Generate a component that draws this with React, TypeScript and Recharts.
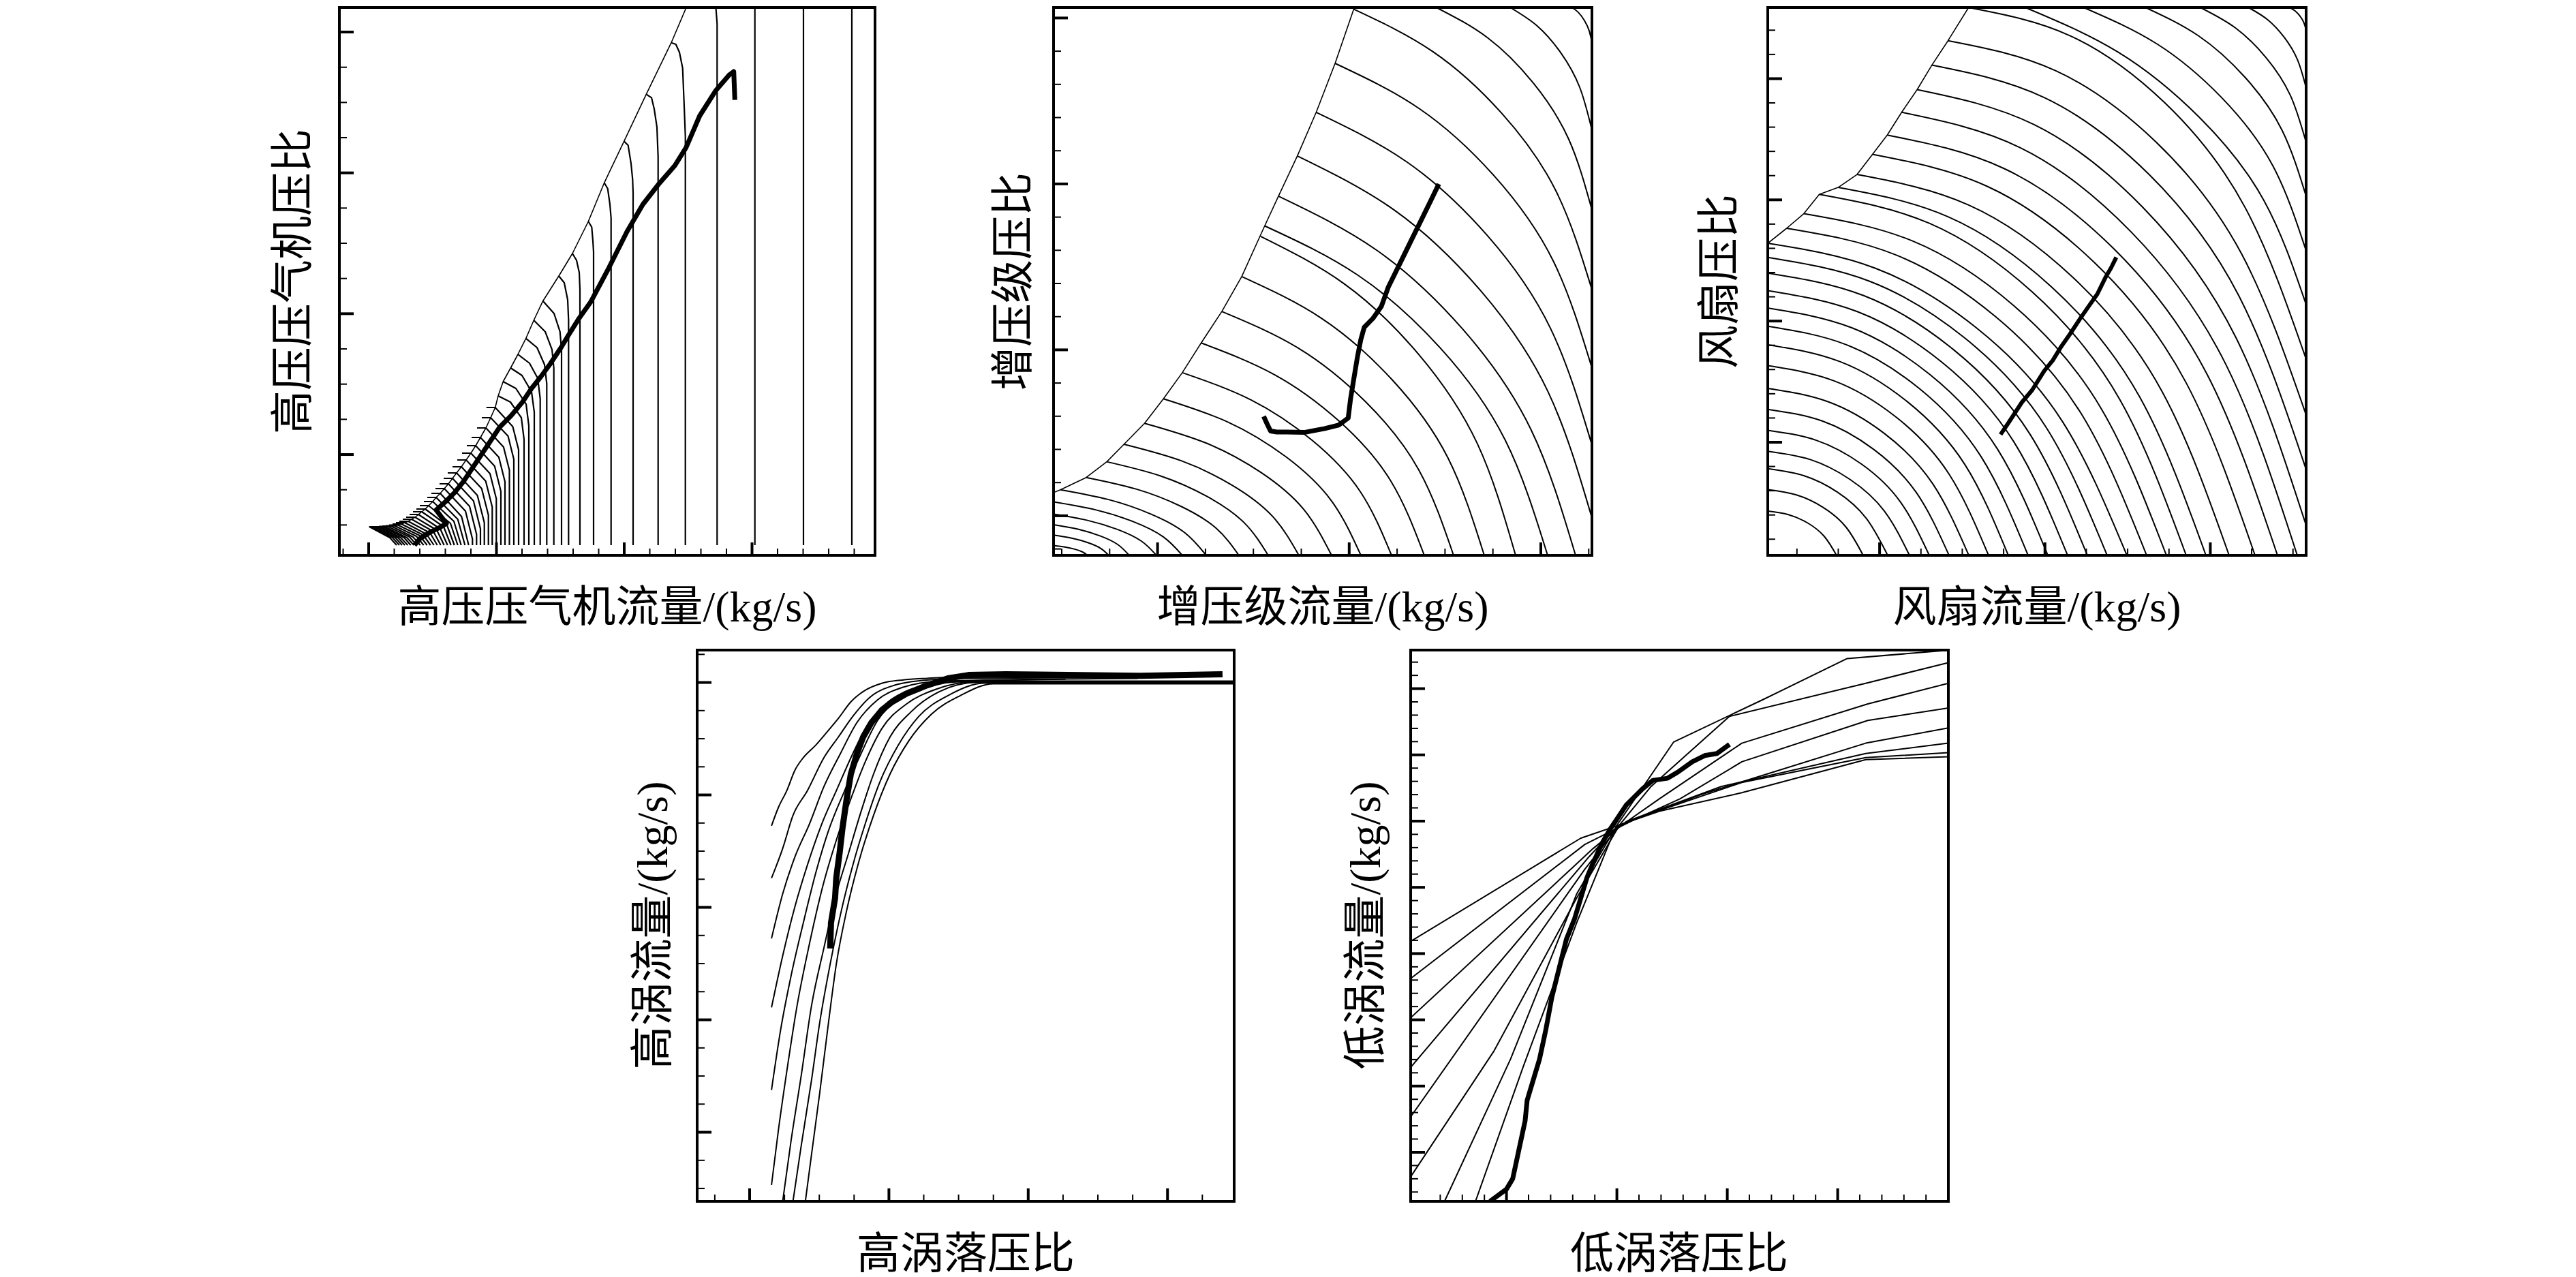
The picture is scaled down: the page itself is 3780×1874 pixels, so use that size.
import React from 'react';
import { LineChart, Line, XAxis, YAxis, ReferenceArea, ReferenceLine } from 'recharts';

type Pt = [number, number];
type CurveType = 'linear' | 'natural' | 'monotone';

interface TickSpec {
  start: number;
  step: number;
  count: number;
  major: number[]; // indexes of the long ticks
}

// ---------------- 高压压气机 (HPC) ----------------
const hpcSpeedLines: Pt[][] = [
  [[75.2, 1.5], [75.2, 81]],
  [[68.1, 1.5], [68.1, 81]],
  [[60.97, 1.5], [60.97, 81]],
  [[55.43, 1.5], [55.43, 78.0], [55.2, 81]],
  [[48.7, 75.23], [49.37, 75.0], [49.9, 73.83], [50.37, 71.5], [50.6, 65.83], [50.77, 61.5], [50.77, 1.5]],
  [[45.03, 67.67], [45.8, 67.17], [46.2, 65.5], [46.6, 62.83], [46.77, 58.5], [46.77, 1.5]],
  [[41.77, 60.77], [42.37, 60.17], [42.8, 57.5], [43.03, 55.17], [43.1, 53.2], [43.1, 1.5]],
  [[38.87, 54.67], [39.37, 53.83], [39.7, 51.5], [39.87, 49.5], [39.87, 1.5]],
  [[36.53, 49.0], [37.03, 48.17], [37.2, 46.17], [37.3, 44.5], [37.3, 1.5]],
  [[34.2, 44.3], [34.8, 43.3], [35.2, 41.5], [35.3, 39.0], [35.3, 1.5]],
  [[32.2, 41.0], [33.0, 40.0], [33.5, 37.5], [33.63, 34.5], [33.63, 1.5]],
  [[29.87, 37.33], [31.5, 35.5], [32.37, 32.83], [32.6, 30.2], [32.6, 1.5]],
  [[28.53, 34.5], [30.2, 32.83], [31.2, 30.2], [31.47, 27.5], [31.47, 1.5]],
  [[27.37, 31.83], [29.0, 30.5], [30.1, 28.0], [30.43, 25.2], [30.43, 1.5]],
  [[26.2, 29.5], [27.9, 28.2], [29.1, 26.0], [29.47, 23.0], [29.47, 1.5]],
  [[25.13, 27.5], [26.8, 26.4], [28.2, 24.0], [28.6, 21.0], [28.6, 1.5]],
  [[24.03, 25.5], [25.9, 24.5], [27.4, 22.2], [27.8, 19.0], [27.8, 1.5]],
  [[23.3, 23.4], [25.1, 22.5], [26.7, 20.2], [27.1, 17.0], [27.1, 1.5]],
  [[21.57, 21.7], [22.87, 21.7], [25.44, 18.9], [26.3, 15.5], [26.3, 1.5]],
  [[20.9, 20.2], [22.2, 20.2], [24.75, 17.5], [25.6, 14.1], [25.6, 1.5]],
  [[20.2, 18.7], [21.5, 18.7], [24.09, 15.9], [24.95, 12.5], [24.95, 1.5]],
  [[19.4, 17.3], [20.7, 17.3], [23.4, 14.4], [24.3, 10.8], [24.3, 1.5]],
  [[18.7, 16.1], [20.0, 16.1], [22.78, 13.1], [23.7, 9.4], [23.7, 1.5]],
  [[18.0, 15.0], [19.3, 15.0], [22.1, 12.0], [23.03, 8.3], [23.03, 1.5]],
  [[17.3, 14.0], [18.6, 14.0], [21.47, 10.9], [22.43, 7.1], [22.43, 1.5]],
  [[16.6, 13.0], [17.9, 13.0], [20.88, 9.8], [21.87, 5.9], [21.87, 1.5]],
  [[15.9, 12.1], [17.2, 12.1], [20.25, 8.8], [21.27, 4.8], [21.27, 1.5]],
  [[15.3, 11.3], [16.6, 11.3], [19.68, 8.0], [20.7, 3.9], [20.7, 1.5]],
  [[14.7, 10.5], [16.0, 10.5], [19.1, 7.2], [20.13, 3.1], [20.13, 1.5]],
  [[14.1, 9.8], [15.4, 9.8], [18.5, 6.5], [19.53, 2.4], [19.53, 1.5]],
  [[13.5, 9.1], [14.8, 9.1], [17.93, 5.7], [18.97, 1.5]],
  [[12.9, 8.5], [14.2, 8.5], [17.37, 5.3], [18.43, 1.5]],
  [[12.4, 7.9], [13.7, 7.9], [16.8, 5.0], [17.87, 1.5]],
  [[11.8, 7.3], [13.1, 7.3], [16.3, 4.7], [17.37, 1.5]],
  [[11.3, 6.8], [12.6, 6.8], [15.8, 4.4], [16.87, 1.5]],
  [[10.8, 6.4], [12.1, 6.4], [15.3, 4.2], [16.37, 1.5]],
  [[10.3, 6.0], [11.6, 6.0], [14.8, 3.9], [15.87, 1.5]],
  [[9.8, 5.6], [11.1, 5.6], [14.3, 3.7], [15.37, 1.5]],
  [[9.3, 5.3], [10.6, 5.3], [13.8, 3.5], [14.87, 1.5]],
  [[8.8, 5.0], [10.1, 5.0], [13.3, 3.3], [14.37, 1.5]],
  [[8.3, 4.8], [9.6, 4.8], [12.8, 3.1], [13.87, 1.5]],
  [[7.8, 4.6], [9.1, 4.6], [12.3, 3.0], [13.37, 1.5]],
  [[7.3, 4.45], [8.6, 4.45], [11.8, 2.9], [12.87, 1.5]],
  [[6.8, 4.35], [8.1, 4.35], [11.3, 2.8], [12.37, 1.5]],
  [[6.3, 4.3], [7.6, 4.3], [10.8, 2.7], [11.87, 1.5]],
  [[5.8, 4.25], [7.1, 4.25], [10.3, 2.7], [11.37, 1.5]],
  [[5.4, 4.2], [6.7, 4.2], [9.9, 2.6], [10.93, 1.5]],
  [[5.0, 4.2], [6.3, 4.2], [9.5, 2.6], [10.47, 1.5]],
  [[4.6, 4.2], [5.9, 4.2], [9.0, 2.6], [10.03, 1.5]],
  [[4.4, 4.2], [5.5, 4.2], [8.6, 2.6], [9.6, 1.5]],
  [[4.4, 4.2], [5.1, 4.2], [8.2, 2.6], [9.2, 1.5]],
  [[4.37, 4.2], [4.7, 4.2], [7.8, 2.6], [8.8, 1.5]],
  [[4.4, 4.2], [7.4, 2.6], [8.4, 1.5]],
];

const hpcSurgeLine: Pt[] = [
  [50.9, 80.4], [48.7, 75.23], [45.03, 67.67], [41.77, 60.77], [38.87, 54.67], [36.53, 49.0],
  [34.2, 44.3], [32.2, 41.0], [29.87, 37.33], [28.53, 34.5], [27.37, 31.83], [26.2, 29.5],
  [25.13, 27.5], [24.03, 25.5], [23.3, 23.4], [22.87, 21.7], [22.2, 20.2], [21.5, 18.7],
  [20.7, 17.3], [20.0, 16.1], [19.3, 15.0], [18.6, 14.0], [17.9, 13.0], [17.2, 12.1],
  [16.6, 11.3], [16.0, 10.5], [15.4, 9.8], [14.8, 9.1], [14.2, 8.5], [13.7, 7.9], [13.1, 7.3],
  [12.6, 6.8], [12.1, 6.4], [11.6, 6.0], [11.1, 5.6], [10.6, 5.3], [10.1, 5.0], [9.6, 4.8],
  [9.1, 4.6], [8.6, 4.45], [8.1, 4.35], [7.6, 4.3], [6.7, 4.2], [4.37, 4.23],
];

const hpcOperatingLine: Pt[] = [
  [11.03, 1.5], [11.87, 2.5], [13.2, 3.33], [14.87, 4.17], [15.7, 4.67], [14.2, 6.67],
  [15.53, 7.83], [16.87, 9.17], [18.2, 10.83], [19.53, 12.83], [20.87, 14.83], [22.2, 16.83],
  [23.53, 18.83], [25.2, 20.5], [26.87, 22.5], [28.2, 24.5], [29.53, 26.17], [30.87, 28.0],
  [32.53, 30.5], [33.53, 32.17], [35.2, 34.83], [36.87, 37.17], [39.53, 42.17], [42.2, 47.5],
  [44.53, 51.5], [46.87, 54.5], [49.2, 57.17], [50.87, 59.83], [52.87, 64.5], [55.2, 68.17],
  [57.2, 70.5], [57.87, 71.0], [58.03, 66.83],
];

const hpcXTicks: TickSpec = { start: 0.55, step: 3.75, count: 21, major: [1, 6, 11, 16] };
const hpcYTicks: TickSpec = { start: 76.8, step: -5.167, count: 15, major: [0, 4, 8, 12] };

// ---------------- 增压级 (booster) ----------------
const boosterSpeedLines: Pt[][] = [
  [[76.07, 80.4], [77.04, 79.64], [77.89, 78.51], [78.56, 77.09], [79.0, 75.3]],
  [[67.0, 80.4], [70.96, 77.7], [74.44, 73.74], [77.2, 68.7], [79.0, 62.4]],
  [[56.17, 80.4], [63.7, 75.95], [70.32, 69.41], [75.58, 61.1], [79.0, 50.7]],
  [[44.08, 80.14], [55.6, 73.97], [65.73, 64.92], [73.76, 53.4], [79.0, 39.0]],
  [[41.31, 72.2], [53.75, 65.5], [64.68, 55.66], [73.35, 43.15], [79.0, 27.5]],
  [[38.54, 65.02], [51.89, 57.7], [63.63, 46.96], [72.93, 33.29], [79.0, 16.2]],
  [[35.77, 58.61], [50.04, 50.64], [62.57, 38.96], [72.52, 24.09], [79.0, 5.5]],
  [[33.0, 52.71], [47.39, 44.8], [60.03, 33.21], [70.06, 18.45], [76.6, 0]],
  [[30.98, 48.35], [44.68, 41.1], [56.72, 30.46], [66.27, 16.92], [72.5, 0]],
  [[30.38, 46.81], [42.73, 39.79], [53.58, 29.49], [62.19, 16.38], [67.8, 0]],
  [[27.61, 40.91], [39.35, 34.77], [49.68, 25.77], [57.86, 14.32], [63.2, 0]],
  [[24.69, 35.79], [35.91, 30.42], [45.78, 22.55], [53.6, 12.53], [58.7, 0]],
  [[21.66, 31.17], [32.46, 26.49], [41.96, 19.64], [49.49, 10.91], [54.4, 0]],
  [[18.89, 26.81], [29.02, 22.79], [37.93, 16.89], [44.99, 9.38], [49.6, 0]],
  [[16.12, 22.97], [25.68, 19.52], [34.09, 14.47], [40.75, 8.04], [45.1, 0]],
  [[13.35, 19.38], [22.41, 16.47], [30.37, 12.21], [36.68, 6.78], [40.8, 0]],
  [[10.33, 16.3], [18.8, 13.86], [26.25, 10.27], [32.15, 5.71], [36.0, 0]],
  [[7.81, 13.74], [15.63, 11.68], [22.5, 8.66], [27.95, 4.81], [31.5, 0]],
  [[4.79, 11.43], [12.19, 9.71], [18.68, 7.2], [23.84, 4.0], [27.2, 0]],
  [[1.01, 9.63], [8.07, 8.19], [14.27, 6.07], [19.19, 3.37], [22.4, 0]],
  [[0, 7.84], [6.24, 6.66], [11.72, 4.94], [16.07, 2.74], [18.9, 0]],
  [[0, 6.05], [4.98, 5.14], [9.36, 3.81], [12.84, 2.12], [15.1, 0]],
  [[0, 4.51], [3.66, 3.83], [6.88, 2.84], [9.44, 1.58], [11.1, 0]],
  [[0, 2.97], [2.67, 2.52], [5.02, 1.87], [6.89, 1.04], [8.1, 0]],
  [[0, 1.44], [1.65, 1.22], [3.1, 0.91], [4.25, 0.5], [5.0, 0]],
];

const boosterSurgeLine: Pt[] = [
  [44.13, 80.4], [41.31, 72.2], [38.54, 65.02], [35.77, 58.61], [33.0, 52.71], [30.98, 48.35],
  [27.61, 40.91], [24.69, 35.79], [21.66, 31.17], [18.89, 26.81], [16.12, 22.97], [13.35, 19.38],
  [10.33, 16.3], [7.81, 13.74], [4.79, 11.43], [1.01, 9.63], [0, 9.22],
];

const boosterOperatingLine: Pt[] = [
  [30.83, 20.4], [31.34, 19.27], [31.84, 18.25], [32.75, 18.1], [34.26, 18.1], [36.78, 18.04],
  [39.8, 18.61], [41.82, 19.12], [43.23, 20.15], [43.58, 22.97], [44.08, 26.04], [44.59, 29.12],
  [45.09, 31.68], [45.59, 33.48], [46.85, 34.76], [48.11, 36.56], [49.12, 39.38], [50.13, 41.43],
  [51.39, 43.99], [52.65, 46.56], [54.16, 49.63], [55.42, 52.2], [56.53, 54.51],
];

const boosterXTicks: TickSpec = { start: 1.2, step: 7.03, count: 12, major: [2, 6, 10] };
const boosterYTicks: TickSpec = { start: 78.86, step: -4.87, count: 17, major: [0, 5, 10, 15] };

// ---------------- 风扇 (fan) ----------------
const fanSpeedLines: Pt[][] = [
  [[76.58, 80.4], [77.38, 79.9], [78.08, 79.16], [78.64, 78.23], [79.0, 77.06]],
  [[70.53, 80.4], [73.33, 78.63], [75.78, 76.03], [77.73, 72.73], [79.0, 68.6]],
  [[63.48, 80.4], [68.6, 77.43], [73.1, 73.07], [76.67, 67.53], [79.0, 60.6]],
  [[55.42, 80.4], [63.2, 76.25], [70.04, 70.15], [75.46, 62.4], [79.0, 52.7]],
  [[46.35, 80.4], [57.12, 75.05], [66.59, 67.19], [74.1, 57.2], [79.0, 44.7]],
  [[37.79, 80.4], [51.39, 73.86], [63.34, 64.27], [72.82, 52.06], [79.0, 36.8]],
  [[29.47, 80.4], [44.33, 76.27], [58.2, 66.47], [70.08, 50.99], [79.0, 28.8]],
  [[26.45, 75.53], [42.22, 71.14], [56.93, 60.7], [69.54, 44.22], [79.0, 20.6]],
  [[24.08, 71.94], [40.56, 67.19], [55.93, 55.92], [69.11, 38.12], [79.0, 12.6]],
  [[21.92, 68.35], [39.04, 63.23], [55.03, 51.08], [68.73, 31.9], [79.0, 4.4]],
  [[19.65, 65.02], [37.07, 59.82], [53.32, 47.46], [67.25, 27.96], [77.7, 0]],
  [[17.53, 61.68], [34.71, 56.75], [50.75, 45.03], [64.49, 26.52], [74.8, 0]],
  [[15.37, 58.86], [32.21, 54.15], [47.93, 42.97], [61.4, 25.31], [71.5, 0]],
  [[13.1, 55.89], [29.48, 51.42], [44.77, 40.8], [57.87, 24.03], [67.7, 0]],
  [[10.33, 53.99], [26.52, 49.67], [41.63, 39.41], [54.59, 23.22], [64.3, 0]],
  [[7.56, 52.97], [23.71, 48.73], [38.79, 38.67], [51.71, 22.78], [61.4, 0]],
  [[5.29, 50.14], [21.25, 46.13], [36.15, 36.6], [48.92, 21.56], [58.5, 0]],
  [[2.77, 48.0], [18.62, 44.16], [33.41, 35.04], [46.09, 20.64], [55.6, 0]],
  [[0, 45.79], [15.81, 42.13], [30.57, 33.43], [43.21, 19.69], [52.7, 0]],
  [[0, 43.73], [14.94, 40.23], [28.88, 31.92], [40.84, 18.8], [49.8, 0]],
  [[0, 41.43], [14.07, 38.12], [27.2, 30.24], [38.46, 17.81], [46.9, 0]],
  [[0, 38.86], [13.2, 35.75], [25.52, 28.37], [36.08, 16.71], [44.0, 0]],
  [[0, 36.3], [12.33, 33.4], [23.84, 26.5], [33.7, 15.61], [41.1, 0]],
  [[0, 33.63], [11.46, 30.94], [22.16, 24.55], [31.32, 14.46], [38.2, 0]],
  [[0, 30.91], [10.59, 28.44], [20.47, 22.56], [28.95, 13.29], [35.3, 0]],
  [[0, 27.84], [9.72, 25.61], [18.79, 20.32], [26.57, 11.97], [32.4, 0]],
  [[0, 24.51], [8.85, 22.55], [17.11, 17.89], [24.19, 10.54], [29.5, 0]],
  [[0, 21.43], [7.98, 19.72], [15.43, 15.64], [21.81, 9.21], [26.6, 0]],
  [[0, 18.36], [7.11, 16.89], [13.75, 13.4], [19.43, 7.89], [23.7, 0]],
  [[0, 15.28], [6.24, 14.06], [12.06, 11.15], [17.06, 6.57], [20.8, 0]],
  [[0, 12.72], [5.28, 11.7], [10.21, 9.29], [14.43, 5.47], [17.6, 0]],
  [[0, 9.64], [4.2, 8.87], [8.12, 7.04], [11.48, 4.15], [14.0, 0]],
  [[0, 6.5], [3.03, 5.98], [5.86, 4.75], [8.28, 2.8], [10.1, 0]],
];

const fanSurgeLine: Pt[] = [
  [29.47, 80.4], [26.45, 75.53], [24.08, 71.94], [21.92, 68.35], [19.65, 65.02], [17.53, 61.68],
  [15.37, 58.86], [13.1, 55.89], [10.33, 53.99], [7.56, 52.97], [5.29, 50.14], [2.77, 48.0], [0, 45.79],
];

const fanOperatingLine: Pt[] = [
  [34.16, 17.74], [35.27, 19.38], [37.28, 22.45], [38.79, 24.25], [40.56, 27.07], [41.82, 28.61],
  [43.07, 30.66], [44.33, 32.45], [45.85, 34.76], [47.1, 36.56], [48.36, 38.35], [49.62, 40.91],
  [50.38, 42.2], [51.14, 43.73],
];

const fanXTicks: TickSpec = { start: 4.28, step: 6.066, count: 13, major: [2, 6, 10] };
const fanYTicks: TickSpec = { start: 77.07, step: -3.557, count: 22, major: [2, 7, 12, 17] };

// ---------------- 高压涡轮 (HPT) ----------------
const hptCurves: Pt[][] = [
  [[10.91, 55.12], [11.94, 57.85], [13.15, 60.27], [14.36, 63.3], [15.58, 65.12], [17.39, 66.94], [19.21, 69.06], [20.73, 70.88], [22.55, 73.3], [24.36, 74.82], [27.09, 76.03], [30.12, 76.51], [33.76, 76.76], [38.0, 76.94], [77.09, 77.06]],
  [[10.91, 47.43], [12.55, 51.79], [14.06, 56.64], [16.18, 60.27], [18.61, 65.12], [20.73, 68.15], [22.85, 71.18], [25.27, 73.91], [28.91, 75.73], [33.76, 76.51], [39.21, 76.76], [69.81, 76.94]],
  [[10.91, 38.58], [12.55, 45.12], [14.36, 50.58], [16.49, 55.42], [18.61, 60.88], [21.03, 65.73], [23.45, 70.27], [26.48, 73.6], [30.12, 75.42], [35.57, 76.33], [64.66, 76.76]],
  [[10.91, 28.46], [12.55, 36.03], [14.36, 43.3], [16.18, 49.36], [18.3, 55.42], [20.42, 60.27], [22.85, 65.73], [24.67, 69.36], [27.7, 73.0], [31.33, 75.12], [36.79, 76.15], [54.06, 76.63]],
  [[10.91, 16.34], [12.24, 25.12], [13.76, 33.0], [15.58, 40.88], [17.39, 48.15], [19.21, 54.21], [21.64, 60.27], [24.06, 65.73], [26.48, 70.57], [29.51, 73.6], [33.76, 75.42], [39.21, 76.35], [78.8, 76.35]],
  [[10.91, 2.4], [11.94, 10.58], [13.15, 19.06], [14.67, 28.76], [16.49, 37.85], [18.3, 45.73], [20.42, 53.0], [22.55, 59.06], [24.67, 64.51], [27.09, 69.36], [30.73, 73.0], [34.97, 75.12], [40.42, 76.25], [78.8, 76.25]],
  [[12.55, 0], [13.76, 8.76], [15.27, 18.46], [16.79, 28.76], [18.61, 37.24], [20.42, 45.12], [22.24, 51.18], [24.06, 57.24], [25.88, 62.7], [28.3, 68.15], [31.33, 71.79], [35.57, 74.82], [41.03, 76.15], [78.8, 76.15]],
  [[14.06, 0], [15.27, 8.16], [16.79, 17.85], [18.0, 26.34], [19.52, 34.82], [21.03, 42.09], [22.85, 49.36], [24.67, 55.42], [26.79, 61.48], [29.51, 66.94], [32.54, 71.18], [36.79, 74.21], [42.24, 76.05], [78.8, 76.05]],
  [[15.88, 0], [16.79, 6.94], [18.0, 16.03], [19.21, 25.73], [20.42, 34.82], [21.94, 42.7], [23.76, 49.97], [25.88, 56.64], [28.3, 62.7], [31.03, 67.54], [34.36, 71.48], [38.6, 74.21], [43.45, 75.95], [78.8, 75.95]],
];

const hptOperatingLine: Pt[] = [
  [19.52, 37.12], [19.64, 40.88], [20.24, 44.52], [20.42, 47.55], [20.91, 51.18], [21.33, 54.82],
  [21.94, 59.06], [22.55, 62.7], [23.45, 65.73], [24.36, 68.15], [25.58, 70.27], [27.09, 72.09],
  [28.61, 73.3], [30.73, 74.51], [33.76, 75.73], [36.79, 76.76], [39.82, 77.24], [45.27, 77.36],
  [54.36, 77.24], [64.97, 77.12], [77.09, 77.36],
];

const hptXTicks: TickSpec = { start: 2.59, step: 5.11, count: 15, major: [1, 5, 9, 13] };
const hptYTicks: TickSpec = { start: 80.27, step: -4.125, count: 20, major: [1, 5, 9, 13, 17] };

// ---------------- 低压涡轮 (LPT) ----------------
const lptCurves: Pt[][] = [
  [[4.97, 0], [14.66, 20.88], [24.36, 45.12], [30.42, 55.42], [38.6, 67.42], [51.63, 73.6], [64.05, 79.66], [78.9, 80.88]],
  [[9.51, 0], [16.48, 19.67], [24.36, 40.88], [29.81, 54.21], [35.27, 60.88], [46.78, 71.18], [66.78, 76.03], [78.9, 79.06]],
  [[0, 3.61], [12.24, 22.09], [24.36, 44.52], [30.42, 54.82], [36.48, 59.06], [48.6, 67.24], [67.08, 73.0], [78.9, 76.03]],
  [[0, 12.4], [25.57, 48.76], [30.42, 54.94], [39.51, 59.06], [48.6, 64.51], [67.08, 70.57], [78.9, 72.39]],
  [[0, 19.67], [26.18, 50.58], [30.42, 55.12], [42.54, 59.67], [66.78, 67.24], [78.9, 69.48]],
  [[0, 26.94], [26.78, 51.79], [31.63, 55.73], [45.57, 60.88], [66.78, 65.73], [78.9, 67.24]],
  [[0, 32.7], [25.57, 52.39], [33.45, 56.33], [48.6, 61.48], [66.78, 65.12], [78.9, 65.85]],
  [[0, 38.15], [24.97, 53.3], [36.48, 57.24], [48.6, 59.97], [66.78, 64.82], [78.9, 65.24]],
];

const lptOperatingLine: Pt[] = [
  [11.63, 0], [14.06, 1.79], [14.97, 3.31], [15.88, 7.55], [16.79, 11.79], [17.09, 14.82],
  [18.0, 17.85], [18.91, 20.88], [19.82, 25.12], [20.72, 29.97], [21.94, 34.82], [22.85, 38.46],
  [24.06, 41.49], [24.97, 44.52], [25.88, 47.55], [26.78, 49.67], [28.0, 52.39], [29.21, 54.52],
  [30.42, 56.33], [31.63, 58.15], [32.84, 59.36], [34.06, 60.58], [35.57, 61.79], [37.69, 62.09],
  [39.21, 63.0], [41.33, 64.51], [43.15, 65.42], [44.96, 65.73], [46.78, 67.06],
];

const lptXTicks: TickSpec = { start: 4.34, step: 3.24, count: 23, major: [3, 8, 13, 18] };
const lptYTicks: TickSpec = { start: 79.13, step: -1.944, count: 41, major: [2, 7, 12, 17, 22, 27, 32, 37] };

// ---------------- drawing ----------------
const FONT = '"Liberation Serif", "Noto Sans CJK SC", serif';
const PAD = 12;

interface Series {
  pts: Pt[];
  width: number;
  type: CurveType;
}

interface PanelProps {
  left: number;
  top: number;
  width: number;
  height: number;
  xMax: number;
  yMax: number;
  xTicks: TickSpec;
  yTicks: TickSpec;
  series: Series[];
  xLabel: string;
  yLabel: string;
  xLabelAt: [number, number];
  yLabelAt: [number, number];
}

function tickList(t: TickSpec) {
  return Array.from({ length: t.count }, (_, i) => ({
    value: t.start + i * t.step,
    major: t.major.includes(i),
  }));
}

function labelStyle([cx, cy]: [number, number], vertical: boolean): React.CSSProperties {
  return {
    position: 'absolute',
    left: cx,
    top: cy,
    transform: `translate(-50%, -50%)${vertical ? ' rotate(-90deg)' : ''}`,
    fontFamily: FONT,
    fontSize: 64,
    lineHeight: 1,
    whiteSpace: 'nowrap',
    color: '#000',
  };
}

function Panel(p: PanelProps) {
  // tick lengths are given in pixels, converted to axis units
  const ux = p.xMax / p.width;
  const uy = p.yMax / p.height;
  return (
    <>
      <div style={{ position: 'absolute', left: p.left - PAD, top: p.top - PAD }}>
        <LineChart
          width={p.width + 2 * PAD}
          height={p.height + 2 * PAD}
          margin={{ top: PAD, right: PAD, bottom: PAD, left: PAD }}
        >
          <XAxis type="number" dataKey="x" domain={[0, p.xMax]} allowDataOverflow hide />
          <YAxis type="number" domain={[0, p.yMax]} allowDataOverflow hide />
          {p.series.map((s, i) => (
            <Line
              key={`s${i}`}
              data={s.pts.map(([x, y]) => ({ x, y }))}
              dataKey="y"
              type={s.type}
              stroke="#000"
              strokeWidth={s.width}
              strokeLinejoin="round"
              dot={false}
              activeDot={false}
              isAnimationActive={false}
            />
          ))}
          {tickList(p.xTicks).map((t, i) => (
            <ReferenceLine
              key={`xt${i}`}
              segment={[{ x: t.value, y: 0 }, { x: t.value, y: (t.major ? 19 : 10) * uy }]}
              stroke="#000"
              strokeWidth={t.major ? 4 : 2}
              ifOverflow="visible"
            />
          ))}
          {tickList(p.yTicks).map((t, i) => (
            <ReferenceLine
              key={`yt${i}`}
              segment={[{ x: 0, y: t.value }, { x: (t.major ? 21 : 11) * ux, y: t.value }]}
              stroke="#000"
              strokeWidth={t.major ? 4 : 2}
              ifOverflow="visible"
            />
          ))}
          <ReferenceArea x1={0} x2={p.xMax} y1={0} y2={p.yMax} fill="none" stroke="#000" strokeWidth={4} ifOverflow="visible" />
        </LineChart>
      </div>
      <div style={labelStyle(p.xLabelAt, false)}>{p.xLabel}</div>
      <div style={labelStyle(p.yLabelAt, true)}>{p.yLabel}</div>
    </>
  );
}

const thin = (lines: Pt[][], type: CurveType, width: number): Series[] =>
  lines.map(pts => ({ pts, type, width }));

export default function App() {
  return (
    <div style={{ position: 'absolute', left: 0, top: 0, width: 3780, height: 1874, background: '#fff', overflow: 'hidden' }}>
      <Panel
        left={498} top={11} width={786} height={804} xMax={78.6} yMax={80.4}
        xTicks={hpcXTicks} yTicks={hpcYTicks}
        series={[
          ...thin(hpcSpeedLines, 'linear', 2.2),
          { pts: hpcSurgeLine, type: 'linear', width: 1.6 },
          { pts: hpcOperatingLine, type: 'linear', width: 7 },
        ]}
        xLabel="高压压气机流量/(kg/s)" yLabel="高压压气机压比"
        xLabelAt={[891, 891]} yLabelAt={[430, 413]}
      />
      <Panel
        left={1546} top={11} width={790} height={804} xMax={79.0} yMax={80.4}
        xTicks={boosterXTicks} yTicks={boosterYTicks}
        series={[
          ...thin(boosterSpeedLines, 'natural', 2),
          { pts: boosterSurgeLine, type: 'linear', width: 1.6 },
          { pts: boosterOperatingLine, type: 'linear', width: 7 },
        ]}
        xLabel="增压级流量/(kg/s)" yLabel="增压级压比"
        xLabelAt={[1941, 891]} yLabelAt={[1487, 413]}
      />
      <Panel
        left={2594} top={11} width={790} height={804} xMax={79.0} yMax={80.4}
        xTicks={fanXTicks} yTicks={fanYTicks}
        series={[
          ...thin(fanSpeedLines, 'natural', 2),
          { pts: fanSurgeLine, type: 'linear', width: 1.6 },
          { pts: fanOperatingLine, type: 'linear', width: 6 },
        ]}
        xLabel="风扇流量/(kg/s)" yLabel="风扇压比"
        xLabelAt={[2989, 891]} yLabelAt={[2523, 413]}
      />
      <Panel
        left={1023} top={954} width={788} height={809} xMax={78.8} yMax={80.9}
        xTicks={hptXTicks} yTicks={hptYTicks}
        series={[
          ...thin(hptCurves, 'monotone', 2),
          { pts: hptOperatingLine, type: 'linear', width: 9 },
        ]}
        xLabel="高涡落压比" yLabel="高涡流量/(kg/s)"
        xLabelAt={[1417, 1840]} yLabelAt={[958, 1358]}
      />
      <Panel
        left={2070} top={954} width={789} height={809} xMax={78.9} yMax={80.9}
        xTicks={lptXTicks} yTicks={lptYTicks}
        series={[
          ...thin(lptCurves, 'linear', 2),
          { pts: lptOperatingLine, type: 'linear', width: 7 },
        ]}
        xLabel="低涡落压比" yLabel="低涡流量/(kg/s)"
        xLabelAt={[2464, 1840]} yLabelAt={[2004, 1358]}
      />
    </div>
  );
}
